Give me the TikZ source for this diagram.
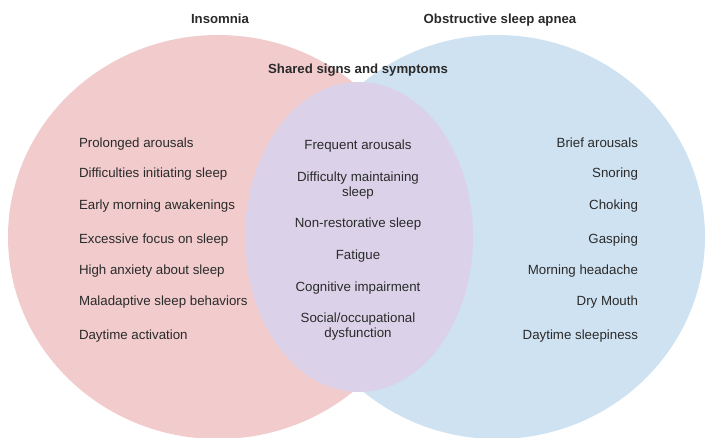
\documentclass[tikz,border=0pt]{standalone}
\usepackage{fontspec}
\setmainfont{Liberation Sans}
\definecolor{pinkfill}{HTML}{F2CCCD}
\definecolor{bluefill}{HTML}{CFE2F2}
\definecolor{purplefill}{HTML}{DBD2E9}
\definecolor{txt}{HTML}{2A2A2A}
\begin{document}
\begin{tikzpicture}[x=1pt,y=-1pt,
  every node/.style={inner sep=0pt,outer sep=0pt,text=txt,font=\fontsize{13.3}{15.5}\selectfont},
  lft/.style={anchor=base west},
  rgt/.style={anchor=base east},
  mid/.style={anchor=base,align=center},
  ttl/.style={anchor=base,font=\fontsize{13.2}{16}\selectfont\bfseries}]
\useasboundingbox (0,0) rectangle (705,438);
\fill[bluefill] (497,237) ellipse [x radius=208, y radius=202];
\fill[pinkfill] (218,237) ellipse [x radius=210, y radius=202];
\fill[purplefill] (359,237) ellipse [x radius=114, y radius=155];

\node[ttl] (t1) at (220,23.5) {Insomnia};
\node[ttl] (t2) at (500,23.5) {Obstructive sleep apnea};
\node[ttl] (t3) at (358,73.5) {Shared signs and symptoms};

\node[lft] (l1) at (79,147.5) {Prolonged arousals};
\node[lft] (l2) at (79,178) {Difficulties initiating sleep};
\node[lft] (l3) at (79,210) {Early morning awakenings};
\node[lft] (l4) at (79,243.5) {Excessive focus on sleep};
\node[lft] (l5) at (79,275) {High anxiety about sleep};
\node[lft] (l6) at (79,306) {Maladaptive sleep behaviors};
\node[lft] (l7) at (79,339.5) {Daytime activation};

\node[rgt] (r1) at (638,147.5) {Brief arousals};
\node[rgt] (r2) at (638,178) {Snoring};
\node[rgt] (r3) at (638,210) {Choking};
\node[rgt] (r4) at (638,243.5) {Gasping};
\node[rgt] (r5) at (638,275) {Morning headache};
\node[rgt] (r6) at (638,306) {Dry Mouth};
\node[rgt] (r7) at (638,339.5) {Daytime sleepiness};

\node[mid] (m1) at (358,150) {Frequent arousals};
\node[mid] (m2) at (358,197) {Difficulty maintaining\\sleep};
\node[mid] (m3) at (358,228) {Non-restorative sleep};
\node[mid] (m4) at (358,260) {Fatigue};
\node[mid] (m5) at (358,292) {Cognitive impairment};
\node[mid] (m6) at (358,338) {Social/occupational\\dysfunction};
\end{tikzpicture}
\end{document}
